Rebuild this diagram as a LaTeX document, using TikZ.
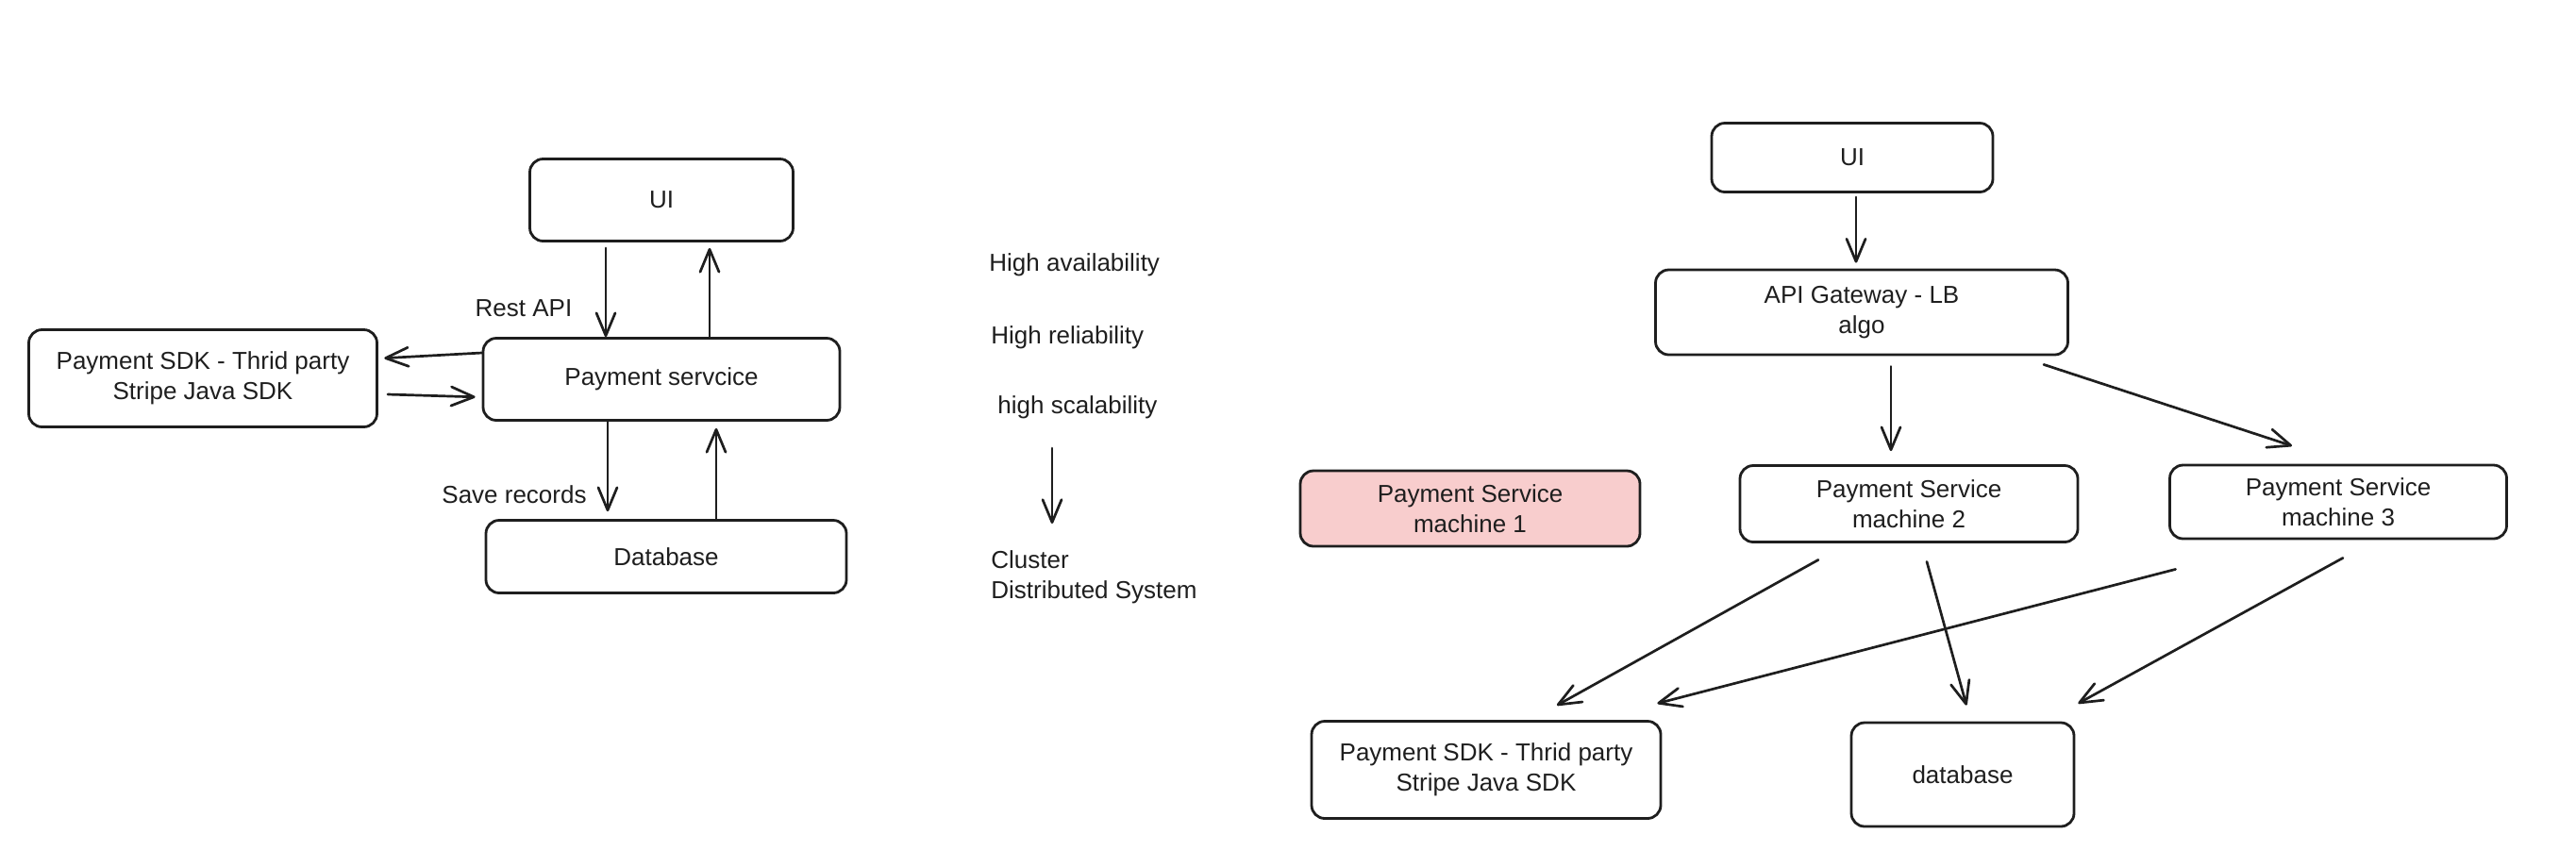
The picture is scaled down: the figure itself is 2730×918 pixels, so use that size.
\documentclass[tikz,border=0pt]{standalone}
\usepackage{fontspec}
\setmainfont{Liberation Sans}
\usetikzlibrary{arrows.meta, positioning}
\definecolor{ink}{HTML}{1E1E1E}
\definecolor{downred}{RGB}{248,205,205}

\begin{document}
\begin{tikzpicture}[x=0.5pt, y=-0.5pt,
  >={Straight Barb[length=12pt, width=10pt, line cap=round, line join=round]},
  every node/.style={font=\fontsize{13}{16}\selectfont, text=ink},
  box/.style={draw=ink, line width=1.4pt, rounded corners=7pt, align=center},
  lbl/.style={align=left, inner sep=0pt},
  link/.style={ink, line width=1.35pt, line cap=round}]
  \useasboundingbox (0,0) rectangle (2730,918);

  % single service
  \node[box, minimum width=139.5pt, minimum height=43.5pt] (ui) at (701,212) {UI};
  \node[box, minimum width=189pt, minimum height=43.5pt] (pay) at (701,402) {Payment servcice};
  \node[box, minimum width=184.5pt, minimum height=51.5pt] (sdk) at (215,401) {Payment SDK - Thrid party\\Stripe Java SDK};
  \node[box, minimum width=191pt, minimum height=38.5pt] (db) at (706,590) {Database};
  \node[lbl] (rest) at (555,327) {Rest API};
  \node[lbl] (save) at (545,524) {Save records};
  \path[->, link]
  ([shift={(-59,0)}]ui.south) edge [shorten <=3pt] ([shift={(-59,0)}]pay.north)
  ([shift={(51,0)}]pay.north) edge [shorten >=3pt] ([shift={(51,0)}]ui.south)
  ([shift={(0,-28)}]pay.west) edge [shorten >=3.2pt] ([shift={(0,-21)}]sdk.east)
  ([shift={(10,17)}]sdk.east) edge [shorten >=3.5pt] ([shift={(0,19)}]pay.west)
  ([shift={(-57,0)}]pay.south) edge [shorten >=4pt] ([shift={(-62,0)}]db.north)
  ([shift={(53,0)}]db.north) edge [shorten >=3.5pt] ([shift={(58,0)}]pay.south)
  ;

  % goals
  \node[lbl, anchor=west] (avail) at (1048,281) {High availability};
  \node[lbl, anchor=west] (relia) at (1050,358) {High reliability};
  \node[lbl, anchor=west] (scal) at (1057,432) {high scalability};
  \node[lbl, anchor=west] (clus) at (1050,612) {Cluster\\Distributed System};
  \coordinate (gtop) at (1115,475);
  \coordinate (gbot) at (1115,555);
  \path[->, link] (gtop) edge (gbot);

  % cluster
  \node[box, minimum width=149pt, minimum height=36.5pt] (ui2) at (1963,167) {UI};
  \node[box, minimum width=218.5pt, minimum height=45pt] (gw) at (1973,331) {API Gateway - LB\\algo};
  \node[box, fill=downred, minimum width=180pt, minimum height=40pt] (ms1) at (1558,539) {Payment Service\\machine 1};
  \node[box, minimum width=179pt, minimum height=40.5pt] (ms2) at (2023,534) {Payment Service\\machine 2};
  \node[box, minimum width=178.5pt, minimum height=39pt] (ms3) at (2478,532) {Payment Service\\machine 3};
  \node[box, minimum width=185pt, minimum height=51.5pt] (sdk2) at (1575,816) {Payment SDK - Thrid party\\Stripe Java SDK};
  \node[box, minimum width=118pt, minimum height=55pt] (db2) at (2080,821) {database};
  \path[->, link]
  ([shift={(4,0)}]ui2.south) edge [shorten <=2pt, shorten >=3pt] ([shift={(-6,0)}]gw.north)
  ([shift={(31,0)}]gw.south) edge [shorten <=5.5pt, shorten >=7pt] ([shift={(-19,0)}]ms2.north)
  ([shift={(-27,9)}]gw.south east) edge ([shift={(-49,-19)}]ms3.north)
  ([shift={(-96,17.5)}]ms2.south) edge ([shift={(75,-15.5)}]sdk2.north)
  ([shift={(7.5,31)}]ms3.south west) edge ([shift={(-5,-17.5)}]sdk2.north east)
  ([shift={(19,19.5)}]ms2.south) edge ([shift={(4,-17)}]db2.north)
  ([shift={(5,19)}]ms3.south) edge ([shift={(3,-19)}]db2.north east)
  ;
\end{tikzpicture}
\end{document}
